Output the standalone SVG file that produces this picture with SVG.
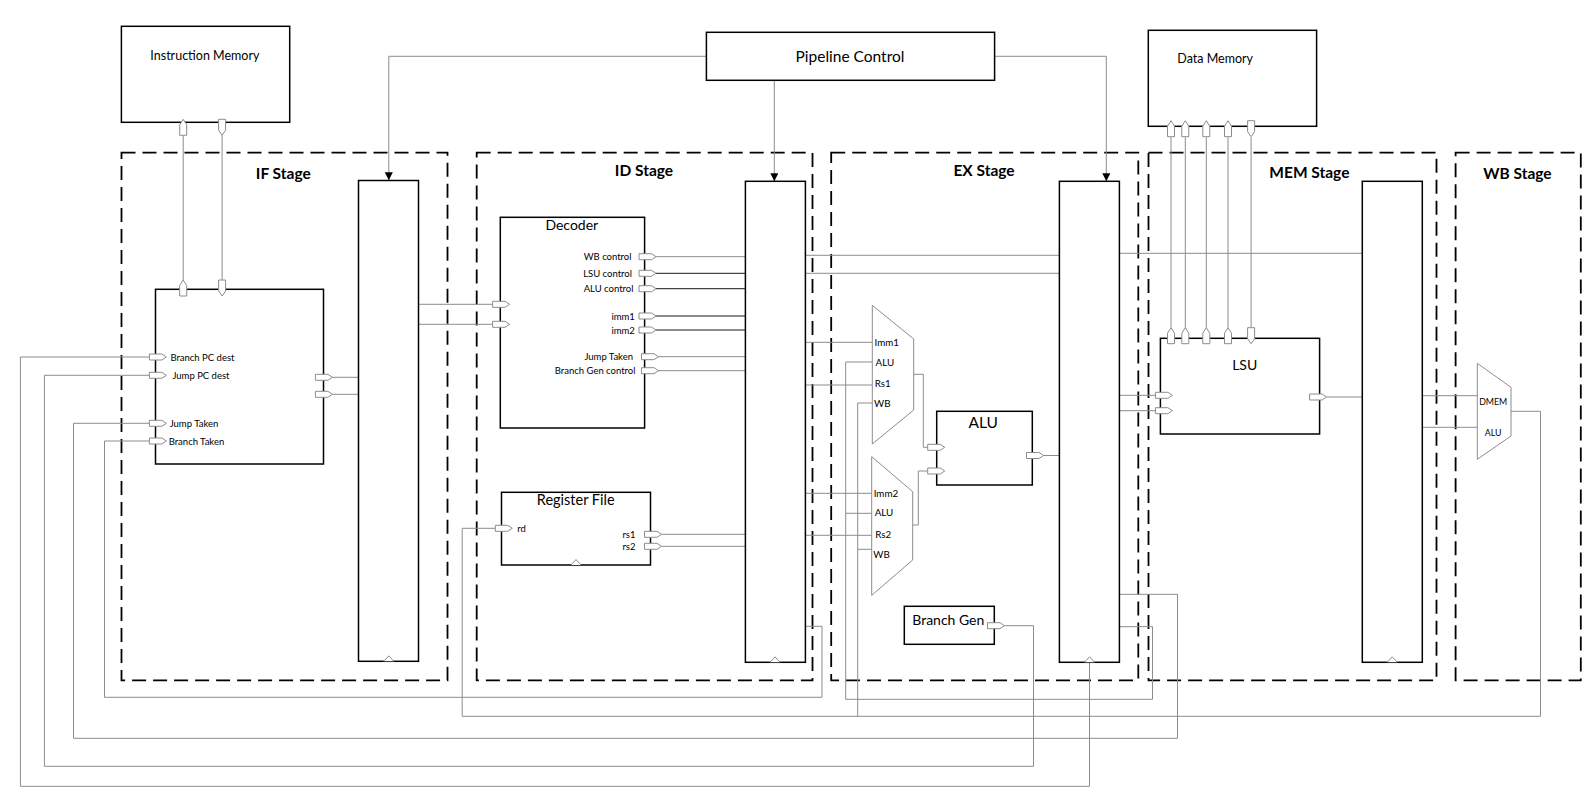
<svg xmlns="http://www.w3.org/2000/svg" width="1593" height="796" viewBox="0 0 1593 796">
<defs>
<style>
text { font-family: Lato, "Liberation Sans", sans-serif; fill: #000; dominant-baseline: central; }
.box { fill: #fff; stroke: #000; stroke-width: 1.5; }
.stage { fill: none; stroke: #000; stroke-width: 1.8; stroke-dasharray: 14 7; }
.w { fill: none; stroke: #8c8c8c; stroke-width: 1; }
.wk { fill: none; stroke: #1a1a1a; stroke-width: 1; }
.port { fill: #fff; stroke: #8c8c8c; stroke-width: 1; }
.mux { fill: #fff; stroke: #8c8c8c; stroke-width: 1; }
.clk { fill: #fff; stroke: #8c8c8c; stroke-width: 1; }
.st { font-weight: bold; font-size: 15.5px; text-anchor: middle; }
.t13 { font-size: 13.5px; text-anchor: middle; }
.sm { font-size: 9.5px; }
.smr { font-size: 9.5px; text-anchor: end; }
.mx { font-size: 9.8px; }
.mxc { font-size: 8.8px; text-anchor: middle; }
</style>
<path id="pr" d="M0,-3 H12.5 L17,0 L12.5,3 H0 Z"/>
<path id="pu" d="M-3.5,16 V5.5 L0,0 L3.5,5.5 V16 Z"/>
<path id="pd" d="M-3.5,0 H3.5 V11 L0,16 L-3.5,11 Z"/>
<path id="ck" d="M-5,0 L0,-5.5 L5,0"/>
<marker id="arr" viewBox="0 0 10 10" refX="10" refY="5" markerWidth="9" markerHeight="8" markerUnits="userSpaceOnUse" orient="auto"><path d="M0,0 L10,5 L0,10 Z" fill="#000"/></marker>
</defs>
<rect width="1593" height="796" fill="#fff"/>

<g id="stages">
<rect class="stage" x="121.5" y="152.7" width="326" height="527.6"/>
<rect class="stage" x="476.7" y="152.7" width="335.8" height="527.6"/>
<rect class="stage" x="831.2" y="152.7" width="307.1" height="527.6"/>
<rect class="stage" x="1148.5" y="152.7" width="288" height="527.6"/>
<rect class="stage" x="1455.6" y="152.7" width="125.2" height="527.6"/>
<text class="st" x="283.3" y="172.7">IF Stage</text>
<text class="st" x="644" y="170">ID Stage</text>
<text class="st" x="984" y="170">EX Stage</text>
<text class="st" x="1309.4" y="171.7">MEM Stage</text>
<text class="st" x="1517.4" y="172.7">WB Stage</text>
</g>

<g id="connectors">
<path class="w" d="M706.4,56.3 H388.8 V180.3" marker-end="url(#arr)"/>
<path class="w" d="M774.3,80.3 V181.3" marker-end="url(#arr)"/>
<path class="w" d="M994.6,56.3 H1106.3 V181.3" marker-end="url(#arr)"/>
<path class="w" d="M183.2,135.3 V280 M222.1,135.3 V280"/>
<path class="w" d="M1171,137.3 V327.7 M1185.3,137.3 V327.7 M1206.3,137.3 V327.7 M1228,137.3 V327.7 M1251.1,137.3 V327.7"/>
<path class="w" d="M332.3,377.3 H358.5 M332.3,394.3 H358.5"/>
<path class="w" d="M418.5,304.3 H492.6 M418.5,324.3 H492.6"/>
<path class="w" d="M656,256.7 H745.4 M658,356.7 H745.4 M658,370.7 H745.4"/>
<path class="wk" d="M656,273.3 H745.4 M656,288.7 H745.4 M656,316 H745.4 M656,330 H745.4"/>
<path class="w" d="M661.7,534.3 H745.4 M661.7,546.3 H745.4"/>
<path class="w" d="M805.4,255.3 H1059.4 M805.4,273.3 H1059.4"/>
<path class="w" d="M805.4,342.3 H872.3 M805.4,385 H872.3 M805.4,493.3 H871.7 M805.4,535.3 H871.7"/>
<path class="w" d="M1119.4,626.7 H1152.5 V699.3 H845.7 V362 H872.3 M845.7,513.3 H871.7"/>
<path class="w" d="M1511,411.3 H1540.5 V716.3 H462.2 V528.3 H495.3 M857.7,716.3 V403 H872.3 M857.7,549.3 H871.7"/>
<path class="w" d="M913.7,374.3 H923.3 V447.3 H927.7 M912.7,525 H918.3 V471 H927.7"/>
<path class="w" d="M1043.3,455.5 H1059.4"/>
<path class="w" d="M1119.4,395.3 H1155.4 M1119.4,410.7 H1155.4"/>
<path class="w" d="M1326.8,397 H1362.3"/>
<path class="w" d="M1119.4,253.3 H1362.3"/>
<path class="w" d="M1422.3,395.7 H1477.3 M1422.3,427.3 H1477.3"/>
<path class="w" d="M805.4,626.3 H822 V697.3 H104.5 V441 H149.4"/>
<path class="w" d="M1119.4,594.3 H1177.5 V738.3 H73.5 V423.3 H149.4"/>
<path class="w" d="M1004.5,625.7 H1033.5 V766.3 H44.4 V375.3 H149.4"/>
<path class="w" d="M1089.5,657 V786.3 H20.4 V357 H149.4"/>
</g>

<g id="instruction-memory">
<rect class="box" x="121.4" y="26.3" width="168.3" height="96"/>
<text class="t13" x="204.9" y="55.7" style="font-size:12.5px">Instruction Memory</text>
<use href="#pu" class="port" x="183.2" y="119.3"/>
<use href="#pd" class="port" x="222.1" y="119.3"/>
</g>

<g id="pipeline-control">
<rect class="box" x="706.4" y="32.3" width="288.2" height="48"/>
<text class="t13" x="850" y="55.7" style="font-size:15.5px">Pipeline Control</text>
</g>

<g id="data-memory">
<rect class="box" x="1148.3" y="30.3" width="168.3" height="96"/>
<text class="t13" x="1215.2" y="58.7" style="font-size:12.5px">Data Memory</text>
<use href="#pu" class="port" x="1171" y="120.7"/>
<use href="#pu" class="port" x="1185.3" y="120.7"/>
<use href="#pu" class="port" x="1206.3" y="120.7"/>
<use href="#pu" class="port" x="1228" y="120.7"/>
<use href="#pd" class="port" x="1251.1" y="120.7"/>
</g>

<g id="fetch-unit">
<rect class="box" x="155.5" y="289.3" width="168" height="174.7"/>
<use href="#pu" class="port" x="183.2" y="280"/>
<use href="#pd" class="port" x="222.1" y="280"/>
<use href="#pr" class="port" x="149.4" y="357"/>
<use href="#pr" class="port" x="149.4" y="375.3"/>
<use href="#pr" class="port" x="149.4" y="423.3"/>
<use href="#pr" class="port" x="149.4" y="441"/>
<use href="#pr" class="port" x="315.4" y="377.3"/>
<use href="#pr" class="port" x="315.4" y="394.3"/>
<text class="sm" x="170.4" y="357">Branch PC dest</text>
<text class="sm" x="172.4" y="375.3">Jump PC dest</text>
<text class="sm" x="169.7" y="423.3">Jump Taken</text>
<text class="sm" x="168.7" y="441">Branch Taken</text>
</g>

<g id="if-id-register">
<rect class="box" x="358.5" y="180.5" width="60" height="480.8"/>
<use href="#ck" class="clk" x="388.8" y="661.3"/>
</g>

<g id="decoder">
<rect class="box" x="500.3" y="217.3" width="144.3" height="210.7"/>
<text class="t13" x="571.8" y="224.8" style="font-size:14px">Decoder</text>
<use href="#pr" class="port" x="492.6" y="304.3"/>
<use href="#pr" class="port" x="492.6" y="324.3"/>
<use href="#pr" class="port" x="639" y="256.7"/>
<use href="#pr" class="port" x="639" y="273.3"/>
<use href="#pr" class="port" x="639" y="288.7"/>
<use href="#pr" class="port" x="639" y="316"/>
<use href="#pr" class="port" x="639" y="330"/>
<use href="#pr" class="port" x="641.5" y="356.7"/>
<use href="#pr" class="port" x="641.5" y="370.7"/>
<text class="smr" x="631.5" y="256.7">WB control</text>
<text class="smr" x="632" y="273.3">LSU control</text>
<text class="smr" x="633.5" y="288.7">ALU control</text>
<text class="smr" x="634.8" y="316">imm1</text>
<text class="smr" x="634.8" y="330">imm2</text>
<text class="smr" x="633" y="356.7">Jump Taken</text>
<text class="smr" x="635.5" y="370.7">Branch Gen control</text>
</g>

<g id="register-file">
<rect class="box" x="501.5" y="492.3" width="149" height="72.7"/>
<text class="t13" x="575.7" y="499.8" style="font-size:14.5px">Register File</text>
<use href="#ck" class="clk" x="576" y="565"/>
<use href="#pr" class="port" x="495.3" y="528.3"/>
<use href="#pr" class="port" x="644.5" y="534.3"/>
<use href="#pr" class="port" x="644.5" y="546.3"/>
<text class="sm" x="517.2" y="528.3">rd</text>
<text class="smr" x="635.5" y="534.3">rs1</text>
<text class="smr" x="635.5" y="546.3">rs2</text>
</g>

<g id="id-ex-register">
<rect class="box" x="745.4" y="181.3" width="60" height="481"/>
<use href="#ck" class="clk" x="775" y="662.3"/>
</g>

<g id="mux-a">
<polygon class="mux" points="872.3,305.3 913.7,339 913.7,410 872.3,444"/>
<text class="mx" x="874.5" y="342.3">Imm1</text>
<text class="mx" x="875.5" y="362">ALU</text>
<text class="mx" x="874.7" y="383">Rs1</text>
<text class="mx" x="874" y="403">WB</text>
</g>

<g id="mux-b">
<polygon class="mux" points="871.7,456.7 912.7,491.7 912.7,560 871.7,595.3"/>
<text class="mx" x="873.7" y="493.3">Imm2</text>
<text class="mx" x="874.7" y="512.3">ALU</text>
<text class="mx" x="875.3" y="534">Rs2</text>
<text class="mx" x="873.3" y="554">WB</text>
</g>

<g id="alu">
<rect class="box" x="936.7" y="411.3" width="95.6" height="73.7"/>
<text class="t13" x="983.3" y="422.3" style="font-size:15.5px">ALU</text>
<use href="#pr" class="port" x="927.7" y="447.3"/>
<use href="#pr" class="port" x="927.7" y="471"/>
<use href="#pr" class="port" x="1026.5" y="455.5"/>
</g>

<g id="branch-gen">
<rect class="box" x="904.3" y="606.3" width="90" height="38"/>
<text class="t13" x="948.3" y="619.3" style="font-size:14px">Branch Gen</text>
<use href="#pr" class="port" x="987.5" y="625.7"/>
</g>

<g id="ex-mem-register">
<rect class="box" x="1059.4" y="181.3" width="60" height="481"/>
<use href="#ck" class="clk" x="1089.5" y="662.3"/>
</g>

<g id="lsu">
<rect class="box" x="1160.4" y="338.3" width="159.2" height="95.7"/>
<text class="t13" x="1244.7" y="364.7" style="font-size:14px">LSU</text>
<use href="#pu" class="port" x="1171" y="327.7"/>
<use href="#pu" class="port" x="1185.3" y="327.7"/>
<use href="#pu" class="port" x="1206.3" y="327.7"/>
<use href="#pu" class="port" x="1228" y="327.7"/>
<use href="#pd" class="port" x="1251.1" y="327.7"/>
<use href="#pr" class="port" x="1155.4" y="395.3"/>
<use href="#pr" class="port" x="1155.4" y="410.7"/>
<use href="#pr" class="port" x="1309.6" y="397"/>
</g>

<g id="mem-wb-register">
<rect class="box" x="1362.3" y="181.3" width="60" height="481"/>
<use href="#ck" class="clk" x="1392.3" y="662.3"/>
</g>

<g id="wb-mux">
<polygon class="mux" points="1477.3,363.3 1511,387.3 1511,436 1477.3,459.3"/>
<text class="mxc" x="1493.2" y="401">DMEM</text>
<text class="mxc" x="1493.2" y="432">ALU</text>
</g>
</svg>
